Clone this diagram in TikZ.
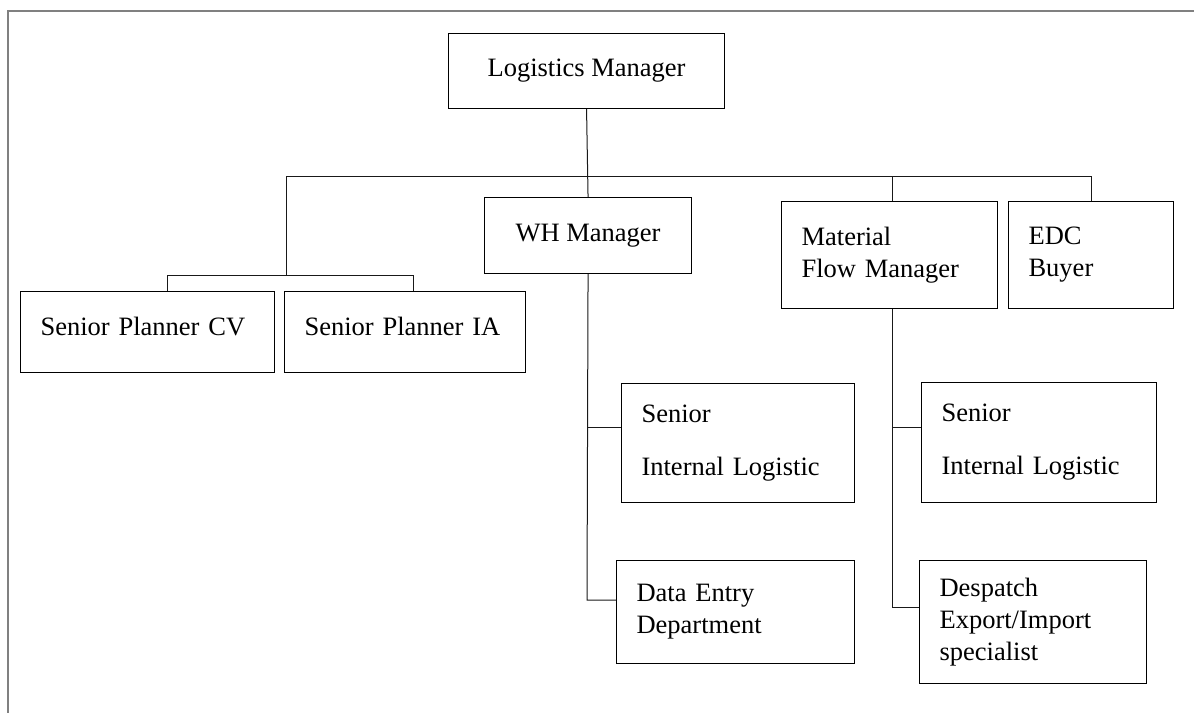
\documentclass[tikz,border=0pt]{standalone}
\usepackage{fontspec}
\setmainfont{Liberation Serif}
\usetikzlibrary{positioning}

\begin{document}
\begin{tikzpicture}[x=1pt,y=-1pt,
    box/.style={draw,line width=1.1pt,anchor=north west,align=left,inner xsep=20pt,inner ysep=0pt,
      font=\fontsize{26.5}{32}\selectfont},
    cbox/.style={box,align=center,inner xsep=0pt},
    link/.style={draw=black!90,line width=1pt}]
      \useasboundingbox (0,0) rectangle (1194,713);
      \draw[gray,line width=2pt] (1194,11) -- (8,11) -- (8,713);

      \node[cbox,minimum width=276pt,minimum height=75pt] (lm) at (448,33) {Logistics Manager};
      \node[cbox,minimum width=207pt,minimum height=76pt] (wh) at (484,197) {WH Manager};
      \node[box,text width=176pt,minimum height=107pt] (mfm) at (781,201) {Material\\Flow Manager};
      \node[box,text width=125pt,minimum height=107pt] (edc) at (1008,201) {EDC\\Buyer};
      \node[box,text width=214pt,minimum height=81pt,text depth=12pt] (cv) at (20,291) {Senior Planner CV};
      \node[box,text width=201pt,minimum height=81pt,text depth=12pt] (ia) at (284,291) {Senior Planner IA};
      \node[box,text width=193pt,minimum height=119pt] (sil1) at (621,383) {Senior\\[21pt]Internal Logistic};
      \node[box,text width=198pt,minimum height=103pt] (dat) at (616,560) {Data Entry\\Department};
      \node[box,text width=195pt,minimum height=120pt] (sil2) at (921,382) {Senior\\[21pt]Internal Logistic};
      \node[box,text width=187pt,minimum height=123pt] (dsp) at (919,560) {Despatch\\Export/Import\\specialist};

      % bus lines
      \coordinate (busL) at (286,176);
      \coordinate (busR) at (1091,176);
      \coordinate (busM) at (892,176);
      \coordinate (subC) at (286,275);
      \coordinate (subL) at (167,275);
      \coordinate (subR) at (413,275);
      \coordinate (whA) at (587,427);
      \coordinate (whB) at (587,600);
      \coordinate (mfA) at (892,427);
      \coordinate (mfB) at (892,607);

      \draw[link] (lm.south) -- (wh.north);
      \draw[link] (busL) -- (busR);
      \draw[link] (busL) -- (subC);
      \draw[link] (subL) -- (subR);
      \draw[link] (subL) -- (subL |- cv.north);
      \draw[link] (subR) -- (subR |- ia.north);
      \draw[link] (busM) -- (busM |- mfm.north);
      \draw[link] (busR) -- (busR |- edc.north);

      \draw[link] (wh.south) -- (whB) -- (whB -| dat.west);
      \draw[link] (whA) -- (whA -| sil1.west);
      \draw[link] (mfm.south -| mfB) -- (mfB) -- (mfB -| dsp.west);
      \draw[link] (mfA) -- (mfA -| sil2.west);
\end{tikzpicture}
\end{document}
